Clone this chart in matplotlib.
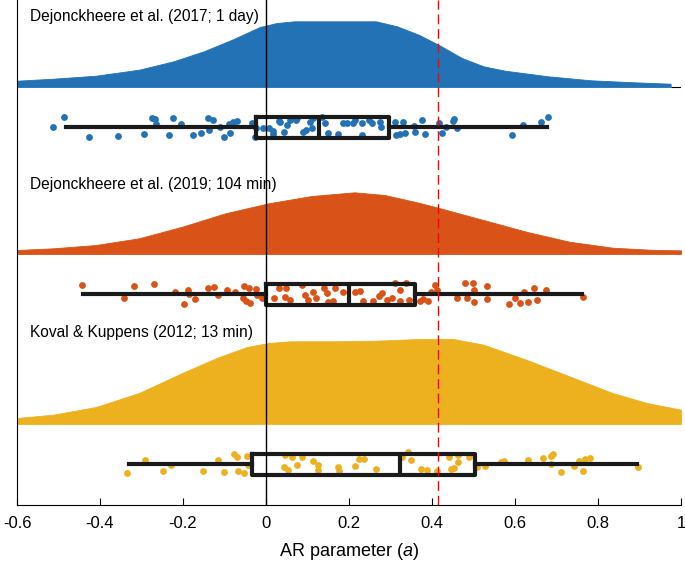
import matplotlib
matplotlib.use("Agg")
import matplotlib.pyplot as plt
from matplotlib.ticker import FuncFormatter

plt.rcParams['font.family'] = ['Liberation Sans', 'DejaVu Sans']
plt.rcParams['mathtext.fontset'] = 'custom'
plt.rcParams['mathtext.it'] = 'Liberation Sans:italic'
plt.rcParams['mathtext.rm'] = 'Liberation Sans'
plt.rcParams['axes.unicode_minus'] = False

# study labels and colours (MATLAB default palette)
labels = ['Dejonckheere et al. (2017; 1 day)',
          'Dejonckheere et al. (2019; 104 min)',
          'Koval & Kuppens (2012; 13 min)']
colors = ['#2372b6', '#d95319', '#edb120']

# density curves (x, height)
dens_x_blue = [-0.6, -0.513, -0.41, -0.306, -0.223, -0.150, -0.078, -0.015, 0.026, 0.068,
               0.265, 0.316, 0.368, 0.420, 0.472, 0.524, 0.576, 0.680, 0.783, 0.887, 0.975]
dens_h_blue = [6.3, 8.3, 11.3, 17.3, 25.7, 35.7, 48, 60, 64, 65.7,
               65.7, 60.7, 52.3, 41.3, 29, 20.7, 16.3, 10.7, 6.7, 4.7, 3.3]
dens_x_orange = [-0.6, -0.513, -0.41, -0.306, -0.202, -0.098, 0.006, 0.11, 0.213,
                 0.286, 0.368, 0.420, 0.524, 0.627, 0.731, 0.835, 0.939, 1.0]
dens_h_orange = [4, 5.7, 9, 15.7, 27.3, 40.7, 50.7, 58, 61.7,
                 59, 51.3, 45.7, 34, 22.3, 12.3, 6.3, 4, 3.7]
dens_x_yellow = [-0.6, -0.513, -0.41, -0.306, -0.202, -0.119, -0.046, 0.006, 0.058, 0.162,
                 0.265, 0.368, 0.451, 0.524, 0.627, 0.731, 0.835, 0.918, 1.0]
dens_h_yellow = [6, 9.3, 17, 31, 51, 66, 77, 81, 82.7, 82.7,
                 83.3, 85, 85, 79.3, 64.3, 47.7, 31, 21, 14.3]

# individual AR estimates and their vertical jitter
pts_blue = [-0.513, -0.486, -0.427, -0.357, -0.294, -0.275, -0.267, -0.265, -0.234, -0.225,
            -0.206, -0.175, -0.157, -0.140, -0.128, -0.137, -0.111, -0.101, -0.087, -0.088,
            -0.079, -0.070, -0.033, -0.027, -0.024, -0.008, 0.008, 0.016, 0.032, 0.034,
            0.051, 0.044, 0.072, 0.017, 0.058, 0.074, 0.090, 0.096, 0.106, 0.110,
            0.114, 0.134, 0.142, 0.150, 0.174, 0.186, 0.194, 0.210, 0.214, 0.231,
            0.231, 0.247, 0.255, 0.275, 0.276, 0.311, 0.313, 0.323, 0.331, 0.335,
            0.357, 0.359, 0.375, 0.384, 0.418, 0.423, 0.433, 0.450, 0.454, 0.460,
            0.592, 0.620, 0.662, 0.679]
jit_blue = [0.3, -9.7, 10, 9.3, 7.3, -9.3, -8, -3, 8, -8.7,
            -3, 8.3, 5.7, -9.3, -7.3, 3.3, 0.3, 9.7, 6, -3,
            -5.3, -6.3, -3.7, 9.7, 1.3, 0.7, 1.3, 4, -6.3, -4.7,
            -2, 5.3, -7.3, 7, -7, -8.7, 4.7, 3, -4.7, 1.3,
            -8.7, -10, -3.7, 6.3, 7.3, -3.7, -3.7, -3.7, -7, -3.7,
            8, -7, -3.7, -5.3, -0.3, -4.7, 8, 7.3, -5.3, 6.3,
            -1.3, 4.7, -7, 7.3, -3.7, 6.3, -0.3, -6, -8, 1.3,
            8, -2, -4.7, -10.3]

pts_orange = [-0.443, -0.342, -0.318, -0.269, -0.219, -0.197, -0.187, -0.186, -0.171, -0.139,
              -0.125, -0.115, -0.093, -0.075, -0.055, -0.053, -0.040, -0.047, -0.039, -0.025,
              -0.021, -0.010, 0.019, 0.032, 0.048, 0.046, 0.058, 0.086, 0.094, 0.100,
              0.114, 0.120, 0.140, 0.146, 0.166, 0.185, 0.150, 0.162, 0.214, 0.227,
              0.234, 0.259, 0.273, 0.279, 0.291, 0.303, 0.311, 0.323, 0.323, 0.337,
              0.345, 0.371, 0.379, 0.391, 0.397, 0.407, 0.411, 0.460, 0.480, 0.484,
              0.498, 0.500, 0.501, 0.532, 0.533, 0.586, 0.600, 0.612, 0.622, 0.632,
              0.646, 0.652, 0.675, 0.763]
jit_orange = [-8.7, 3.7, -7.7, -9.7, -1.7, 9.7, -4.3, 0.3, 5.3, -6.3,
              -7, 1, -3.7, -2.3, 3.7, -8.3, -5.7, 7, 9.3, -5,
              1, 3.7, 3.7, -6.3, -6.3, 2.7, 6, -9, 1, 6,
              -1.7, 3.7, -6.3, -0.7, -5.7, -2.3, 7.7, 7, -2.3, -3,
              7, 7, 1.7, -0.7, 6, 3.7, -10.7, -4, 7, -10.7,
              6, 7, 5, 7, -2.3, -9, -4, 4.3, -10.7, 4.3,
              -10.7, -4, 8.3, -8.3, 5, 10.3, 3.7, 9.3, -2.3, 8.3,
              -5.7, 6, -4, 2.7]

pts_yellow = [-0.335, -0.292, -0.247, -0.229, -0.153, -0.116, -0.102, -0.076, -0.071, -0.068,
              -0.052, -0.046, -0.044, 0.046, 0.062, 0.044, 0.054, 0.074, 0.087, 0.113,
              0.126, 0.126, 0.174, 0.176, 0.214, 0.224, 0.235, 0.265, 0.328, 0.343,
              0.349, 0.373, 0.387, 0.411, 0.441, 0.446, 0.454, 0.462, 0.463, 0.489,
              0.508, 0.528, 0.566, 0.574, 0.631, 0.667, 0.687, 0.692, 0.687, 0.711,
              0.743, 0.754, 0.765, 0.769, 0.781, 0.897]
jit_yellow = [8.7, -4, 7.4, 1.4, 7.4, -4.3, 8, -10, -6.6, 6.7,
              8.7, -7.6, 0.7, -9.3, -6.6, 2.7, 5.7, 1.4, -6.6, -2.6,
              1.4, 5.7, 2.7, 7.4, 2, -4.6, -5.3, 5.4, -6.6, -12,
              -3.6, 4.7, 5.7, 7.4, -6.6, 4.7, 4, -2, -9.3, -6.6,
              3.4, 2.4, -2, -3.3, -4, -6, -7.6, -10, 0, 8,
              2.4, -2.6, 7.4, -5.3, -6, 3.4]

# box plot summaries: q1, median, q3, lower whisker, upper whisker
box_q1 = [-0.024, 0.0, -0.033]
box_med = [0.127, 0.2, 0.322]
box_q3 = [0.296, 0.36, 0.504]
box_lo = [-0.483, -0.44, -0.33]
box_hi = [0.677, 0.762, 0.895]

ref_value = 0.415

# layout in pixel-like units (y axis inverted)
dens_base = [87, 254, 424]
box_pos = [127, 294, 464]
label_y = [16, 184, 333]

fig = plt.figure(figsize=(6.85, 5.75), dpi=100)
ax = fig.add_axes([17 / 685, 1 - 505 / 575, 664 / 685, 505 / 575])

dens_x = [dens_x_blue, dens_x_orange, dens_x_yellow]
dens_h = [dens_h_blue, dens_h_orange, dens_h_yellow]
pts = [pts_blue, pts_orange, pts_yellow]
jit = [jit_blue, jit_orange, jit_yellow]

stats = []
for i in range(3):
    base = dens_base[i]
    top = [base - h for h in dens_h[i]]
    ax.fill_between(dens_x[i], base, top, color=colors[i], lw=0.6, edgecolor=colors[i], zorder=2)
    ys = [box_pos[i] + j for j in jit[i]]
    ax.scatter(pts[i], ys, s=24, color=colors[i], lw=0, zorder=3)
    ax.text(-0.568, label_y[i], labels[i], fontsize=11.2, va='center', ha='left', zorder=0)
    stats.append(dict(med=box_med[i], q1=box_q1[i], q3=box_q3[i],
                      whislo=box_lo[i], whishi=box_hi[i], fliers=[]))

# small stub at the end of the first density
ax.hlines(dens_base[0], dens_x_blue[-1], 1.0, color='black', lw=0.8, zorder=2)

line_kw = dict(color='#1a1a1a', lw=3)
ax.bxp(stats, positions=box_pos, widths=21, orientation='horizontal', showcaps=False,
       showfliers=False, boxprops=line_kw, whiskerprops=line_kw, medianprops=line_kw,
       manage_ticks=False, zorder=4)

ax.axvline(0, color='black', lw=1, zorder=4.5)
ax.axvline(ref_value, color='red', lw=1, ls=(0, (7, 3.5)), zorder=5)

ax.set_xlim(-0.6, 1.0)
ax.set_ylim(505, 0)
ax.set_xticks([-0.6, -0.4, -0.2, 0, 0.2, 0.4, 0.6, 0.8, 1.0])
ax.xaxis.set_major_formatter(FuncFormatter(lambda v, p: '%g' % round(v, 2)))
ax.tick_params(axis='x', direction='in', length=5, labelsize=12, pad=8)
ax.set_yticks([])
for s in ['top', 'right']:
    ax.spines[s].set_visible(False)
ax.set_xlabel(r'AR parameter ($\mathit{a}$)', fontsize=13, labelpad=7)

fig.savefig('out.png', dpi=100)
